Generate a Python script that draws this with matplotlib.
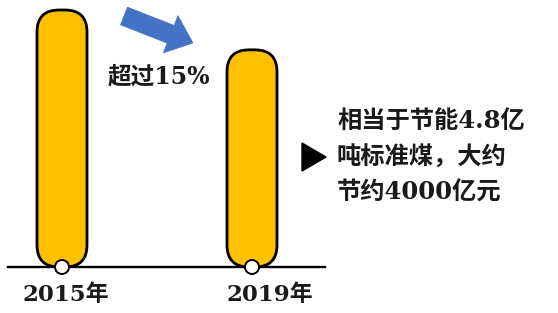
import matplotlib
matplotlib.use("Agg")
import matplotlib.pyplot as plt
from matplotlib.patches import FancyBboxPatch, Circle, FancyArrow, Polygon

# Data
years = ["2015年", "2019年"]
values = [100, 84.5]          # relative energy consumption intensity
change_label = "超过15%"
note_lines = ["相当于节能4.8亿", "吨标准煤，大约", "节约4000亿元"]

plt.rcParams['font.family'] = ['DejaVu Serif', 'Noto Sans CJK SC', 'DejaVu Sans']

W, H = 558, 313
fig = plt.figure(figsize=(W / 100, H / 100), dpi=100)
ax = fig.add_axes([0, 0, 1, 1])
ax.set_xlim(0, W)
ax.set_ylim(H, 0)
ax.axis('off')

baseline = 267
scale = 257 / 100.0
centers = [62, 252]
label_offsets = [4, 18]
bar_w = 50

# baseline
ax.plot([8, 325], [baseline, baseline], color='black', lw=1.7, zorder=1)

for cx, off, v, lab in zip(centers, label_offsets, values, years):
    h = v * scale
    r = bar_w / 2
    p = FancyBboxPatch((cx - bar_w / 2, baseline - h), bar_w, h,
                       boxstyle=f"round,pad=0,rounding_size={r - 3}",
                       facecolor='#FFC000', edgecolor='black', lw=2.0, zorder=2)
    ax.add_patch(p)
    ax.add_patch(Circle((cx, baseline), 7, facecolor='white', edgecolor='black',
                        lw=1.4, zorder=3))
    ax.text(cx + off, 295, lab, ha='center', va='center', fontsize=16.5,
            fontweight='bold', color='#1a1a1a', zorder=4)

# blue arrow
ax.add_patch(FancyArrow(124, 16, 69, 27, width=19, head_width=40,
                        head_length=24, length_includes_head=True,
                        facecolor='#4472C4', edgecolor='#4472C4', lw=0.5, zorder=3))
ax.text(108, 77, change_label, ha='left', va='center', fontsize=17,
        fontweight='bold', color='#1a1a1a')

# black triangle
ax.add_patch(Polygon([(302, 143), (302, 171), (326, 157)], closed=True,
                     facecolor='black', edgecolor='black', zorder=3))

for i, line in enumerate(note_lines):
    ax.text(337, 122 + i * 35.5, line, ha='left', va='center', fontsize=17.5,
            fontweight='bold', color='#1a1a1a')

fig.savefig('out.png', dpi=100)
